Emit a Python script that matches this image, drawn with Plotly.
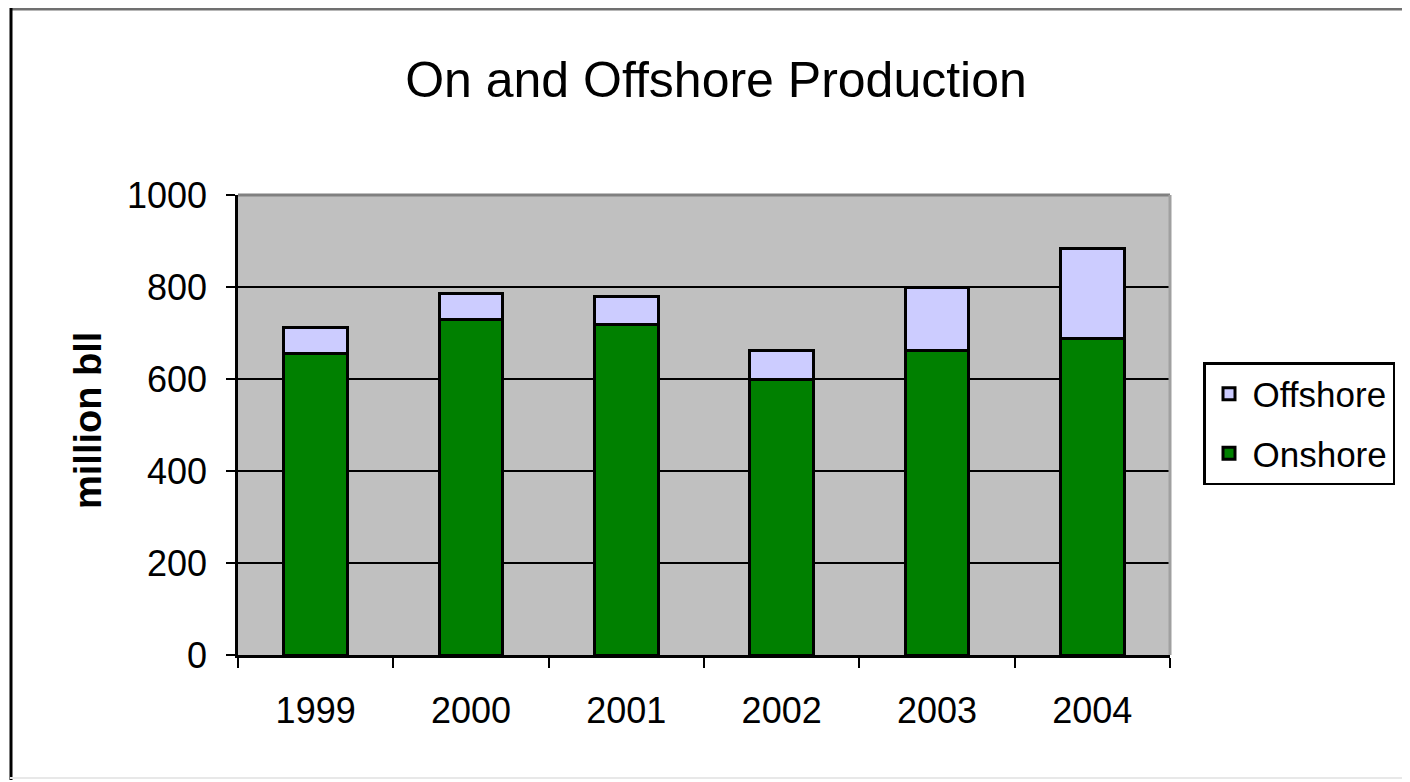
import plotly.graph_objects as go

years = ["1999", "2000", "2001", "2002", "2003", "2004"]
onshore = [656, 730, 718, 600, 662, 689]
offshore = [56, 55, 62, 61, 138, 194]
y_ticks = [0, 200, 400, 600, 800, 1000]

FONT = "Liberation Sans, Arial, sans-serif"

OFF = 8  # page body margin
W, H = 1402, 774
# plot area in screen pixels
SL, SR, ST, SB = 238, 1170, 195, 655
L, R, T, B = SL - OFF, SR - OFF, ST - OFF, SB - OFF
pw, ph = R - L, B - T


def px(x):
    return (x - OFF - L) / pw


def py(y):
    return (B - (y - OFF)) / ph


fig = go.Figure()
fig.add_trace(go.Bar(
    x=years, y=onshore, name="Onshore", legendgroup="on", legendrank=2,
    marker=dict(color="#008000", line=dict(color="#000000", width=3)),
))
fig.add_trace(go.Bar(
    x=years, y=offshore, name="Offshore", legendgroup="off", legendrank=1,
    marker=dict(color="#CCCCFF", line=dict(color="#000000", width=3)),
))

fig.update_layout(
    width=W, height=H,
    margin=dict(l=L, r=W - R, t=T, b=H - B, pad=0),
    barmode="stack",
    bargap=0.59,
    paper_bgcolor="#FFFFFF",
    plot_bgcolor="#C0C0C0",
    font=dict(family=FONT, size=36, color="#000000"),
    title=dict(
        text="On and Offshore Production",
        x=(716 - OFF) / W, xanchor="center",
        y=1 - (79 - OFF) / H, yanchor="middle",
        font=dict(family=FONT, size=50, color="#000000"),
    ),
    showlegend=True,
    legend=dict(
        x=px(1203), xanchor="left",
        y=py(362), yanchor="top",
        traceorder="grouped",
        bgcolor="#FFFFFF",
        bordercolor="#000000", borderwidth=2.5,
        font=dict(family=FONT, size=35, color="#000000"),
        itemwidth=37,
        tracegroupgap=11,
    ),
    xaxis=dict(
        type="category",
        showgrid=False,
        showline=True, linecolor="#000000", linewidth=2.5,
        ticks="outside", ticklen=10, tickwidth=2, tickcolor="#000000",
        tickson="boundaries",
        ticklabelstandoff=22,
        tickfont=dict(family=FONT, size=36, color="#000000"),
    ),
    yaxis=dict(
        range=[0, 1000],
        tickvals=y_ticks,
        showgrid=True, gridcolor="#000000", gridwidth=2,
        zeroline=False,
        showline=True, linecolor="#000000", linewidth=2.5,
        ticks="outside", ticklen=9, tickwidth=2, tickcolor="#000000",
        ticklabelstandoff=12,
        tickfont=dict(family=FONT, size=36, color="#000000"),
    ),
    annotations=[dict(
        text="<b>million bll</b>",
        xref="paper", yref="paper",
        x=px(88), y=py(421),
        xanchor="center", yanchor="middle",
        textangle=-90, showarrow=False,
        font=dict(family=FONT, size=38, color="#000000"),
    )],
    shapes=[
        # plot area top and right border (gray)
        dict(type="line", xref="paper", yref="paper", x0=0, x1=1, y0=1, y1=1,
             line=dict(color="#808080", width=3), layer="above"),
        dict(type="line", xref="paper", yref="paper", x0=1, x1=1, y0=0, y1=1,
             line=dict(color="#A0A0A0", width=3), layer="above"),
        # outer frame
        dict(type="line", xref="paper", yref="paper", x0=px(10), x1=px(1408), y0=py(9), y1=py(9),
             line=dict(color="#707070", width=3), layer="above"),
        dict(type="line", xref="paper", yref="paper", x0=px(11), x1=px(11), y0=py(8), y1=py(780),
             line=dict(color="#000000", width=3), layer="above"),
        dict(type="line", xref="paper", yref="paper", x0=px(1406), x1=px(1406), y0=py(8), y1=py(780),
             line=dict(color="#D0D0D0", width=2), layer="above"),
        dict(type="line", xref="paper", yref="paper", x0=px(10), x1=px(1408), y0=py(778), y1=py(778),
             line=dict(color="#E8E8E8", width=2), layer="above"),
    ],
)

fig.write_html("out.html")
